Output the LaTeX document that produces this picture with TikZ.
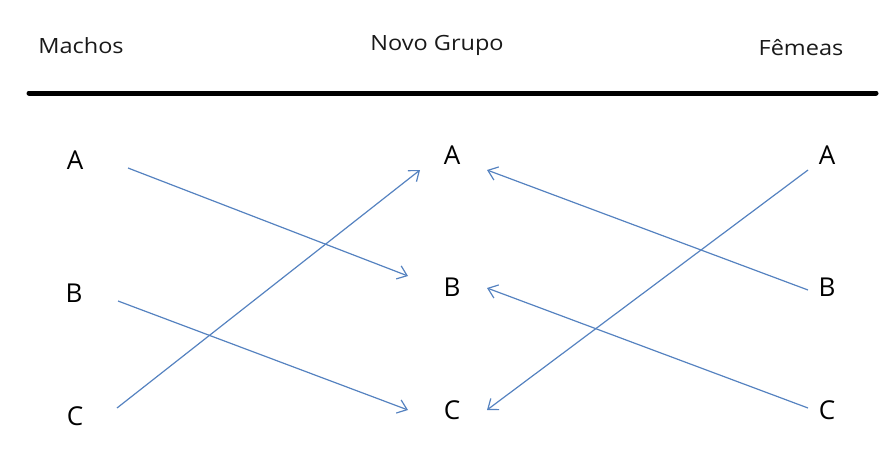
\documentclass[tikz,border=0pt]{standalone}
\usepackage{fontspec}
\setmainfont{Open Sans}
\usetikzlibrary{arrows.meta}
\definecolor{arrowblue}{HTML}{5582C0}
\newcommand{\hdr}[1]{\scalebox{1.12}[1.0]{#1}}
\tikzset{
  header/.style={font=\fontsize{21}{24}\selectfont, text=black!90, inner sep=0pt},
  letter/.style={font=\fontsize{26}{30}\selectfont, text=black, inner sep=0pt},
  link/.style={draw=arrowblue, line width=1.2pt, -{Straight Barb[length=9pt,width=14pt,line width=1.2pt]}}
}
\begin{document}
\begin{tikzpicture}[x=1pt,y=-1pt]
\useasboundingbox (0,0) rectangle (886,461);
% headers
\node[header] (hm) at (81,46) {\hdr{Machos}};
\node[header] (hn) at (437,45) {\hdr{Novo Grupo}};
\node[header] (hf) at (801,48) {\hdr{Fêmeas}};
\draw[line width=5pt, line cap=round] (29,93) coordinate (r1) -- (876,93) coordinate (r2);
% letters
\node[letter] (LA) at (75,160) {A};
\node[letter] (LB) at (74,293) {B};
\node[letter] (LC) at (75,416) {C};
\node[letter] (MA) at (452,155) {A};
\node[letter] (MB) at (452,287) {B};
\node[letter] (MC) at (452,410) {C};
\node[letter] (RA) at (827,155) {A};
\node[letter] (RB) at (827,287) {B};
\node[letter] (RC) at (827,410) {C};
% connector ends
\coordinate (la-o) at (128,168);
\coordinate (lb-o) at (118,301);
\coordinate (lc-o) at (117,408);
\coordinate (ma-l) at (420,170);
\coordinate (mb-l) at (408,276);
\coordinate (mc-l) at (408,410);
\coordinate (ma-r) at (487,170);
\coordinate (mb-r) at (487,288);
\coordinate (mc-r) at (487,410);
\coordinate (ra-o) at (808,170);
\coordinate (rb-o) at (808,290);
\coordinate (rc-o) at (808,408);
% connectors
\draw[link] (la-o) -- (mb-l);
\draw[link] (lb-o) -- (mc-l);
\draw[link] (lc-o) -- (ma-l);
\draw[link] (ra-o) -- (mc-r);
\draw[link] (rb-o) -- (ma-r);
\draw[link] (rc-o) -- (mb-r);
\end{tikzpicture}
\end{document}
